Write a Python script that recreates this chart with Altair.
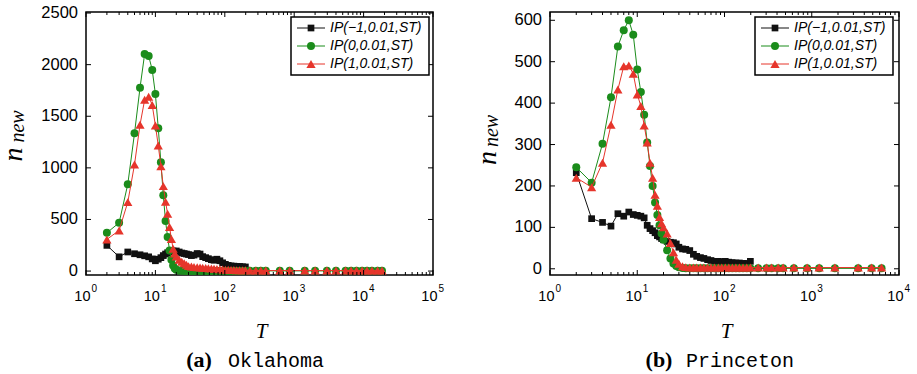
import altair as alt
import pandas as pd

SANS = "Liberation Sans"
SERIF = "Liberation Serif"
MONO = "Liberation Mono"

SERIES = ["IP(\u22121,0.01,ST)", "IP(0,0.01,ST)", "IP(1,0.01,ST)"]
COLORS = ["#111111", "#1b8c1b", "#e6352b"]
SHAPES = ["square", "circle", "triangle-up"]
SIZES = [45, 64, 85]

# ---------------- (a) Oklahoma ----------------
T_OK = [2, 3, 4, 5, 6, 7, 8, 9, 10, 11, 12, 13, 14, 15, 16, 17, 18, 19, 20,
        22, 24, 26, 28, 30, 33, 36, 40, 44, 48, 53, 58, 64, 70, 77, 85, 93, 102, 112, 123, 135, 148, 163, 180, 198,
        230, 280, 330, 390, 620, 860, 1420, 2000, 2960, 4000, 5500, 6600, 7900, 9500, 11200, 13200, 15900, 18400]
OK_BLACK = [249, 138, 185, 168, 158, 148, 138, 118, 100, 115, 130, 150, 165, 178, 185, 192, 195, 190, 195,
            185, 175, 170, 165, 160, 150, 155, 170, 165, 140, 130, 120, 110, 105, 115, 100, 80, 65, 55, 50, 48, 45, 45, 42, 40,
            None, None, None, None, None, None, None, None, None, None, None, None, None, None, None, None, None, None]
OK_GREEN = [371, 468, 842, 1335, 1775, 2104, 2084, 1949, 1715, 1384, 1055, 735, 484, 330, 200, 110, 55, 25, 12,
            5, 3, 2, 1, 1, 1, 1, 1, 1, 1, 1, 1, 1, 1, 1, 1, 1, 1, 1, 1, 1, 1, 1, 1, 1,
            2, 2, 2, 2, 2, 2, 2, 2, 2, 2, 2, 2, 2, 2, 2, 2, 2, 2]
OK_RED = [307, 394, 668, 1032, 1417, 1659, 1690, 1610, 1410, 1216, 1016, 823, 672, 555, 426, 310, 217, 170, 140,
          110, 90, 75, 62, 48, 44, 40, 38, 35, 32, 30, 27, 25, 22, 20, 17, 15, 13, 12, 11, 10, 9, 8, 8, 7,
          6, 6, 5, 5, 5, 5, 5, 5, 5, 5, 5, 5, 5, 5, 5, 5, 5, 5]

# ---------------- (b) Princeton ----------------
T_PR = [2, 3, 4, 5, 6, 7, 8, 9, 10, 11, 12, 13, 14, 15, 16, 17, 18, 19, 20,
        22, 24, 26, 28, 30, 33, 36, 40, 44, 48, 53, 58, 64, 70, 77, 85, 93, 102, 112, 123, 135, 148, 163, 180, 198,
        243, 303, 346, 412, 470, 624, 885, 1216, 1841, 3404, 4850, 6310]
PR_BLACK = [232, 121, 112, 103, 133, 127, 137, 131, 129, 127, 123, 105, 97, 92, 87, 80, 77, 73, 70,
            66, 64, 63, 60, 52, 48, 47, 44, 35, 30, 27, 25, 22, 20, 18, 18, 17, 18, 16, 15, 14, 14, 13, 13, 18,
            None, None, None, None, None, None, None, None, None, None, None, None]
PR_GREEN = [245, 208, 302, 414, 537, 576, 600, 565, 481, 427, 372, 305, 248, 200, 160, 130, 105, 85, 70,
            45, 25, 13, 7, 4, 2, 1, 1, 1, 1, 1, 1, 1, 1, 1, 1, 1, 1, 1, 1, 1, 1, 1, 1, 1,
            1, 1, 1, 1, 1, 1, 1, 1, 1, 1, 1, 1]
PR_RED = [220, 197, 256, 348, 433, 489, 491, 471, 421, 393, 346, 305, 256, 220, 179, 152, 125, 110, 100,
          85, 62, 40, 22, 12, 6, 4, 3, 3, 3, 3, 3, 3, 3, 3, 3, 3, 3, 3, 3, 3, 3, 3, 3, 3,
          3, 3, 3, 3, 3, 3, 3, 3, 3, 3, 3, 3]

# axis ticks / labels
X_MAJOR_OK = [1, 10, 100, 1000, 10000, 100000]
X_EXP_OK = ["0", "1", "2", "3", "4", "5"]
X_MAJOR_PR = [1, 10, 100, 1000, 10000]
X_EXP_PR = ["0", "1", "2", "3", "4"]
Y_TICKS_OK = [0, 500, 1000, 1500, 2000, 2500]
Y_TICKS_PR = [0, 100, 200, 300, 400, 500, 600]
MINOR_MULT = [2, 3, 4, 5, 6, 7, 8, 9]

H = 263
LEG_X, LEG_Y, LEG_W, LEG_H = 205, 5, 138, 58
LEG_ROWS = [16, 34, 52]


def long_df(T, cols):
    rows = []
    for s, vals in zip(SERIES, cols):
        for t, v in zip(T, vals):
            if v is not None:
                rows.append({"T": t, "n": v, "series": s})
    return pd.DataFrame(rows)


def one(**kw):
    d = {"k": [0]}
    d.update({k: [v] for k, v in kw.items()})
    return alt.Chart(pd.DataFrame(d))


def title_axis(text, size, tx, ty):
    return alt.Axis(title=text, labels=False, ticks=False, domain=False, grid=False,
                    titleFont=SERIF, titleFontStyle="italic", titleFontWeight="normal",
                    titleFontSize=size, titleColor="black", titleX=tx, titleY=ty,
                    titleAngle=270, titleAlign="center", titleBaseline="alphabetic")


def panel(T, cols, xdom, ydom, yticks, xmajor, xexp, W, letter, name, letter_x, name_x, ny, newy, nx, newx,
          use_axis):
    df = long_df(T, cols)
    xs = alt.Scale(type="log", domain=xdom, nice=False)
    ys = alt.Scale(domain=ydom, nice=False, zero=False)
    color = alt.Color("series:N", scale=alt.Scale(domain=SERIES, range=COLORS), legend=None)
    shape = alt.Shape("series:N", scale=alt.Scale(domain=SERIES, range=SHAPES), legend=None)
    if use_axis:
        xax = title_axis("new", 20, newx, newy - H)
        yax = title_axis("n", 28, nx, ny)
    else:
        xax = None
        yax = None
    X = alt.X("T:Q", scale=xs, axis=xax)
    Y = alt.Y("n:Q", scale=ys, axis=yax)
    xv = lambda: alt.X("v:Q", scale=xs, axis=xax)
    yv = lambda: alt.Y("v:Q", scale=ys, axis=yax)

    layers = []
    for i, s in enumerate(SERIES):
        base = alt.Chart(df).transform_filter(alt.datum.series == s)
        layers.append(base.mark_line(strokeWidth=1, clip=True).encode(x=X, y=Y, color=color))
        layers.append(base.mark_point(filled=True, opacity=1, clip=True).encode(
            x=X, y=Y, color=color, shape=shape, size=alt.value(SIZES[i])))

    minors = [m * d for d in xmajor[:-1] for m in MINOR_MULT]
    maj = alt.Chart(pd.DataFrame({"v": xmajor}))
    mnr = alt.Chart(pd.DataFrame({"v": minors}))
    ytk = alt.Chart(pd.DataFrame({"v": yticks}))
    rule = dict(color="black", strokeWidth=1)
    layers += [
        maj.mark_rule(**rule).encode(x=xv(), y=alt.value(H), y2=alt.value(H - 5)),
        maj.mark_rule(**rule).encode(x=xv(), y=alt.value(0), y2=alt.value(5)),
        mnr.mark_rule(**rule).encode(x=xv(), y=alt.value(H), y2=alt.value(H - 3)),
        mnr.mark_rule(**rule).encode(x=xv(), y=alt.value(0), y2=alt.value(3)),
        ytk.mark_rule(**rule).encode(y=yv(), x=alt.value(0), x2=alt.value(5)),
        ytk.mark_rule(**rule).encode(y=yv(), x=alt.value(W - 5), x2=alt.value(W)),
        ytk.mark_text(align="right", baseline="middle", font=SANS, fontSize=16.5, color="black")
           .encode(y=yv(), x=alt.value(-8), text="v:Q"),
    ]

    xl = alt.Chart(pd.DataFrame({"v": xmajor, "e": xexp}))
    layers += [
        xl.mark_text(align="right", baseline="alphabetic", font=SANS, fontSize=14.5, dx=4.5, color="black")
          .encode(x=xv(), y=alt.value(H + 25.7), text=alt.value("10")),
        xl.mark_text(align="left", baseline="alphabetic", font=SANS, fontSize=10, dx=5.5, color="black")
          .encode(x=xv(), y=alt.value(H + 17), text="e:N"),
    ]

    layers.append(one().mark_rect(fill="white", stroke="black", strokeWidth=1.5).encode(
        x=alt.value(LEG_X), x2=alt.value(LEG_X + LEG_W), y=alt.value(LEG_Y), y2=alt.value(LEG_Y + LEG_H)))
    for i, s in enumerate(SERIES):
        ry = LEG_ROWS[i]
        e = one(series=s)
        layers += [
            e.mark_rule(strokeWidth=1).encode(x=alt.value(LEG_X + 6), x2=alt.value(LEG_X + 34),
                                              y=alt.value(ry), color=color),
            e.mark_point(filled=True, opacity=1).encode(x=alt.value(LEG_X + 20), y=alt.value(ry),
                                                         color=color, shape=shape, size=alt.value(SIZES[i])),
            e.mark_text(font=SANS, fontStyle="italic", fontSize=14, align="left", baseline="middle", color="black")
             .encode(x=alt.value(LEG_X + 39), y=alt.value(ry), text="series:N"),
        ]

    layers += [
        one().mark_text(font=SERIF, fontStyle="italic", fontSize=21, align="center", baseline="alphabetic", color="black")
             .encode(x=alt.value(W / 2 + 2), y=alt.value(326), text=alt.value("T")),
        one().mark_text(font=SERIF, fontWeight="bold", fontSize=22, align="center", baseline="alphabetic", color="black")
             .encode(x=alt.value(letter_x), y=alt.value(355), text=alt.value(letter)),
        one().mark_text(font=MONO, fontSize=20, align="left", baseline="alphabetic", color="black")
             .encode(x=alt.value(name_x), y=alt.value(355), text=alt.value(name)),
    ]
    if not use_axis:
        layers += [
            one().mark_text(font=SERIF, fontStyle="italic", fontSize=28, angle=270, align="center",
                            baseline="alphabetic", color="black")
                 .encode(x=alt.value(nx), y=alt.value(ny), text=alt.value("n")),
            one().mark_text(font=SERIF, fontStyle="italic", fontSize=20, angle=270, align="center",
                            baseline="alphabetic", color="black")
                 .encode(x=alt.value(newx), y=alt.value(newy), text=alt.value("new")),
        ]
    return alt.layer(*layers).properties(width=W, height=H)


left = panel(T_OK, [OK_BLACK, OK_GREEN, OK_RED], [1, 100000], [-38, 2510], Y_TICKS_OK,
             X_MAJOR_OK, X_EXP_OK, 347, "(a)", "Oklahoma", 113, 142, 142, 114, -65, -63, True)
right = panel(T_PR, [PR_BLACK, PR_GREEN, PR_RED], [1, 10000], [-15, 620], Y_TICKS_PR,
              X_MAJOR_PR, X_EXP_PR, 349, "(b)", "Princeton", 109, 136, 146, 119, -54, -52, False)

chart = (
    alt.hconcat(left, right, spacing=117, bounds="flush")
    .resolve_scale(x="independent", y="independent", color="independent", shape="independent")
    .properties(autosize=alt.AutoSizeParams(type="none"),
                padding={"left": 86, "top": 12, "right": 831, "bottom": 362})
    .configure(font=SANS)
    .configure_view(stroke="black", strokeWidth=1.5)
)

chart.save("out.html", embed_options={"renderer": "svg", "actions": False})
